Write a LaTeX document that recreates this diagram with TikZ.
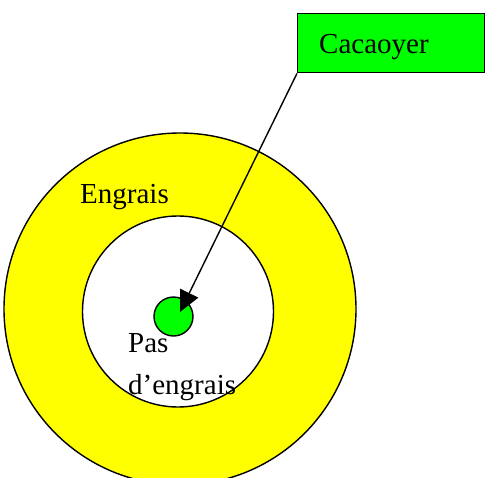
\documentclass[tikz,border=0pt]{standalone}
\usepackage{fontspec}
\setmainfont{Liberation Serif}
\usetikzlibrary{arrows.meta}
\definecolor{ylw}{RGB}{255,255,0}
\definecolor{grn}{RGB}{0,255,0}
\begin{document}
\begin{tikzpicture}[x=1pt,y=-1pt,
  lbl/.style={anchor=base west,inner sep=0pt,font=\fontsize{29}{34}\selectfont},
  ring/.style={draw=black,line width=1.4pt}]
\useasboundingbox (0,0) rectangle (485,477);
\fill[white] (0,0) rectangle (485,477);
\node[ring,circle,fill=ylw,minimum size=352pt,inner sep=0pt] (outer) at (180,309) {};
\node[ring,circle,fill=white,minimum size=191pt,inner sep=0pt] (inner) at (178,311.5) {};
\node[ring,circle,fill=grn,minimum size=39pt,inner sep=0pt] (plant) at (173.5,316.5) {};
\node[lbl] (eng) at (80,203) {Engrais};
\node[lbl] (pas) at (128,352) {Pas};
\node[lbl] (deng) at (128,394) {d’engrais};
\node[ring,draw,fill=grn,minimum width=187pt,minimum height=59pt,inner sep=0pt,anchor=north west] (box) at (297,13) {};
\node[lbl] (cac) at (319,53) {Cacaoyer};
\coordinate (tip) at (180,312);
\draw[line width=1.4pt,-{Triangle[length=21pt,width=20pt]}] (box.south west) -- (tip);
\end{tikzpicture}
\end{document}
